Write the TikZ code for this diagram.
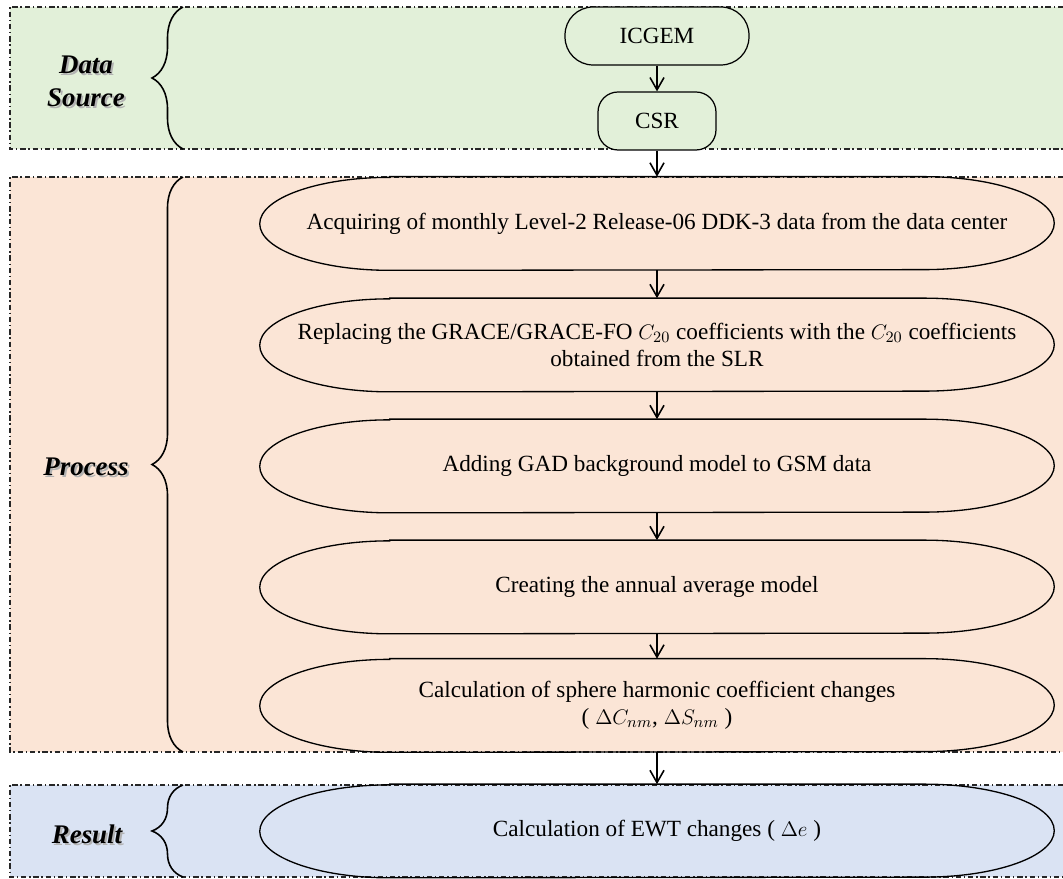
\documentclass[tikz,border=0pt]{standalone}
\usepackage{fontspec}
\setmainfont{Liberation Serif}
\usepackage{tikz}
\usetikzlibrary
  {
    arrows.meta,               % barbed arrow heads
    decorations.pathreplacing, % curly braces
    calc,                      % shifted anchors for the oval outlines
  }

\definecolor{srcgreen}{HTML}{E2F0D9}
\definecolor{procorange}{HTML}{FBE5D6}
\definecolor{resblue}{HTML}{DAE3F3}

% text with a soft drop shadow
\newcommand{\shadowed}[1]{\makebox[0pt][l]{\hspace{1.1pt}\raisebox{-1.1pt}{\color{black!30}#1}}#1}

\tikzset{
  band/.style={draw=black!85, line width=0.7pt,
    dash pattern=on 3pt off 1.6pt on 0.8pt off 1.6pt},
  stagebrace/.style={draw, line width=0.9pt, decorate,
    decoration={brace, amplitude=0.62cm}},
  stagelabel/.style={align=center,
    font=\fontsize{15.3}{18.7}\selectfont\bfseries\itshape},
  srcbox/.style={draw, line width=0.7pt, rounded corners=0.42cm,
    minimum height=1.16cm, fill=srcgreen, font=\fontsize{13.2}{15.3}\selectfont},
  ovalnode/.style={minimum width=15.88cm, minimum height=1.86cm, align=center,
    inner sep=1pt, font=\fontsize{13.2}{15.3}\selectfont},
  ovalline/.style={draw, line width=0.75pt},
  flowarrow/.style={draw, line width=0.9pt, -{Straight Barb[length=7pt,width=8pt]}},
}

\begin{document}
\begin{tikzpicture}[x=0.02cm, y=0.02cm]
  \useasboundingbox (0,0) rectangle (1063,879);

  % the three stage bands, open on the right
  \fill [srcgreen] (10,730) rectangle (1063,872);
  \fill [procorange] (10,127) rectangle (1063,702);
  \fill [resblue] (10,2) rectangle (1063,94);
  \foreach \ya/\yb in {872/730, 702/127, 94/2}
    \draw [band] (1063,\ya) -- (10,\ya) -- (10,\yb) -- (1063,\yb);

  % braces and stage names
  \draw [stagebrace] (183,730) -- (183,872);
  \draw [stagebrace] (183,127) -- (183,702);
  \draw [stagebrace] (183,2) -- (183,94);
  \node [stagelabel] (src) at (86,797) {\shadowed{Data}\\\shadowed{Source}};
  \node [stagelabel] (proc) at (86,411) {\shadowed{Process}};
  \node [stagelabel] (res) at (87,44) {\shadowed{Result}};

  % data source
  \node [srcbox, minimum width=3.68cm, rounded corners=0.56cm] (icgem) at (657,843) {ICGEM};
  \node [srcbox, minimum width=2.36cm, rounded corners=0.4cm] (csr) at (657,758) {CSR};

  % processing steps
  \node [ovalnode] (acq) at (657,655.5)
    {Acquiring of monthly Level-2 Release-06 DDK-3 data from the data center};
  \node [ovalnode] (rep) at (657,534)
    {Replacing the GRACE/GRACE-FO $C_{20}$ coefficients with the $C_{20}$ coefficients\\
     obtained from the SLR};
  \node [ovalnode] (add) at (657,413) {Adding GAD background model to GSM data};
  \node [ovalnode] (ann) at (657,292) {Creating the annual average model};
  \node [ovalnode] (sph) at (657,173.5)
    {Calculation of sphere harmonic coefficient changes\\
     ( $\Delta C_{nm}$, $\Delta S_{nm}$ )};
  % result
  \node [ovalnode] (ewt) at (657,48) {Calculation of EWT changes ( $\Delta e$ )};

  % flattened ovals: straight top and bottom, elliptic ends
  \foreach \n in {acq,rep,add,ann,sph,ewt}
    \draw [ovalline] ($(\n.north west)+(2.6cm,0)$) -- ($(\n.north east)+(-2.6cm,0)$)
      arc [start angle=90, end angle=-90, x radius=2.6cm, y radius=0.93cm]
      -- ($(\n.south west)+(2.6cm,0)$)
      arc [start angle=270, end angle=90, x radius=2.6cm, y radius=0.93cm] -- cycle;

  \foreach \a/\b in {icgem/csr, csr/acq, acq/rep, rep/add, add/ann, ann/sph, sph/ewt}
    \draw [flowarrow] (\a) -- (\b);

\end{tikzpicture}
\end{document}
